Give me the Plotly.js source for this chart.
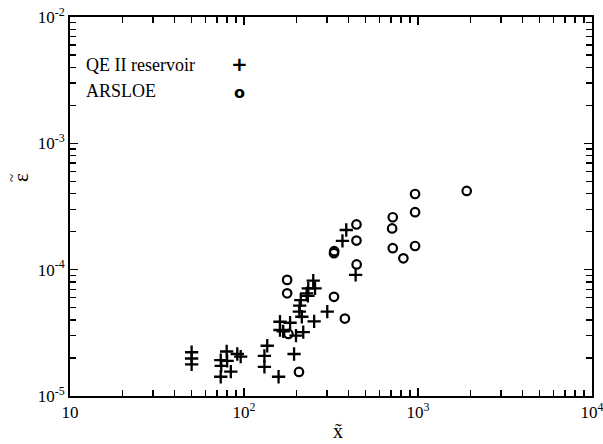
<!DOCTYPE html>
<html>
<head>
<meta charset="utf-8">
<script src="https://cdn.plot.ly/plotly-3.0.1.min.js"></script>
<style>html,body{margin:0;padding:0;background:#fff;}#chart{width:603px;height:444px;}</style>
</head>
<body>
<div id="chart"></div>
<script>
// QE II reservoir (plus markers)
const qeX = [50, 50, 50, 73.5, 74, 73.5, 79.5, 80, 84, 91.5, 95.7, 131, 131, 136, 158,
             161, 161, 184, 168, 199, 219, 194, 253, 301, 208, 215, 212, 229, 234, 250, 256,
             368, 387, 438, 209, 233];
const qeY = [2.22e-5, 1.98e-5, 1.78e-5, 1.92e-5, 1.73e-5, 1.42e-5, 2.25e-5, 1.9e-5, 1.56e-5, 2.15e-5, 2.05e-5,
             2.08e-5, 1.70e-5, 2.5e-5, 1.42e-5,
             3.87e-5, 3.33e-5, 3.8e-5, 3.25e-5, 3.0e-5, 3.2e-5, 2.15e-5, 3.9e-5, 4.65e-5, 4.65e-5, 4.24e-5,
             5.74e-5, 6.5e-5, 7.1e-5, 8.2e-5, 7.1e-5,
             1.69e-4, 2.06e-4, 9.1e-5, 5.2e-5, 6.2e-5];
// ARSLOE (open circles)
const arX = [177, 177, 180, 207, 329, 330, 329, 380, 443, 443, 444, 716, 710, 716, 824, 962, 962, 962, 1905];
const arY = [8.3e-5, 6.5e-5, 3.1e-5, 1.55e-5, 1.35e-4, 1.4e-4, 6.1e-5, 4.1e-5, 2.28e-4, 1.7e-4, 1.1e-4,
             2.6e-4, 2.12e-4, 1.48e-4, 1.23e-4, 3.97e-4, 2.85e-4, 1.54e-4, 4.2e-4];

const seriesNames = ["QE II reservoir", "ARSLOE"];
const legendSymbols = ["+", "o"];
const xDecades = [10, 100, 1000, 10000];
const xDecadeLabels = ["10", "10<sup>2</sup>", "10<sup>3</sup>", "10<sup>4</sup>"];
const yDecades = [1e-5, 1e-4, 1e-3, 1e-2];
const yDecadeLabels = ["10<sup>-5</sup>", "10<sup>-4</sup>", "10<sup>-3</sup>", "10<sup>-2</sup>"];
const xTitle = "x\u0303";
const yTitleLetter = "\u03b5";
const yTitleTilde = "~";

function minorTicks(decades) {
  const vals = [];
  for (let i = 0; i < decades.length - 1; i++) {
    for (let m = 2; m <= 9; m++) vals.push(decades[i] * m);
  }
  return vals;
}

const fam = "Liberation Serif, Times New Roman, serif";
const f = (size, family) => ({family: family || fam, color: "black", size: size});

const traces = [
  {x: qeX, y: qeY, type: "scatter", mode: "markers", name: seriesNames[0], cliponaxis: false,
   marker: {symbol: "cross-thin-open", size: 9.5, color: "black", line: {color: "black", width: 2.3}}},
  {x: arX, y: arY, type: "scatter", mode: "markers", name: seriesNames[1], cliponaxis: false,
   marker: {symbol: "circle-open", size: 8.5, color: "black", line: {color: "black", width: 2.2}}}
];

function axis(rng, vals, text) {
  return {
    type: "log", range: rng, tickmode: "array", tickvals: vals, ticktext: text,
    ticks: "inside", ticklen: 8, tickwidth: 1.5, tickcolor: "black",
    showline: true, mirror: "allticks", linecolor: "black", linewidth: 2,
    gridcolor: "rgba(0,0,0,0)",
    tickfont: f(17), ticklabeloverflow: "allow",
    minor: {tickmode: "array", tickvals: minorTicks(vals), ticks: "inside", ticklen: 6, tickwidth: 1.3,
            tickcolor: "black", gridcolor: "rgba(0,0,0,0)"}
  };
}

const layout = {
  width: 603, height: 444,
  margin: {l: 70, r: 11, t: 17, b: 48},
  showlegend: false,
  font: {family: fam},
  xaxis: axis([1, 4], xDecades, xDecadeLabels),
  yaxis: axis([-5, -2], yDecades, yDecadeLabels),
  annotations: [
    {xref: "paper", yref: "paper", x: (84 - 70) / 522, y: (396 - 65) / 379, xanchor: "left", yanchor: "middle",
     text: seriesNames[0], showarrow: false, font: f(18)},
    {xref: "paper", yref: "paper", x: (84 - 70) / 522, y: (396 - 91) / 379, xanchor: "left", yanchor: "middle",
     text: seriesNames[1], showarrow: false, font: f(18)},
    {xref: "paper", yref: "paper", x: (240 - 70) / 522, y: (396 - 64) / 379, xanchor: "center", yanchor: "middle",
     text: "<b>" + legendSymbols[0] + "</b>", showarrow: false, font: f(20, "DejaVu Sans")},
    {xref: "paper", yref: "paper", x: (240 - 70) / 522, y: (396 - 92) / 379, xanchor: "center", yanchor: "middle",
     text: "<b>" + legendSymbols[1] + "</b>", showarrow: false, font: f(16, "DejaVu Sans")},
    {xref: "paper", yref: "paper", x: (338 - 70) / 522, y: (396 - 431) / 379, xanchor: "center", yanchor: "middle",
     text: xTitle, showarrow: false, font: f(20)},
    {xref: "paper", yref: "paper", x: (21 - 70) / 522, y: (396 - 178) / 379, xanchor: "center", yanchor: "middle",
     text: yTitleLetter, textangle: -90, showarrow: false, font: f(21)},
    {xref: "paper", yref: "paper", x: (12 - 70) / 522, y: (396 - 178) / 379, xanchor: "center", yanchor: "middle",
     text: yTitleTilde, textangle: -90, showarrow: false, font: f(15)}
  ]
};

Plotly.newPlot("chart", traces, layout, {staticPlot: true, displayModeBar: false});
</script>
</body>
</html>
